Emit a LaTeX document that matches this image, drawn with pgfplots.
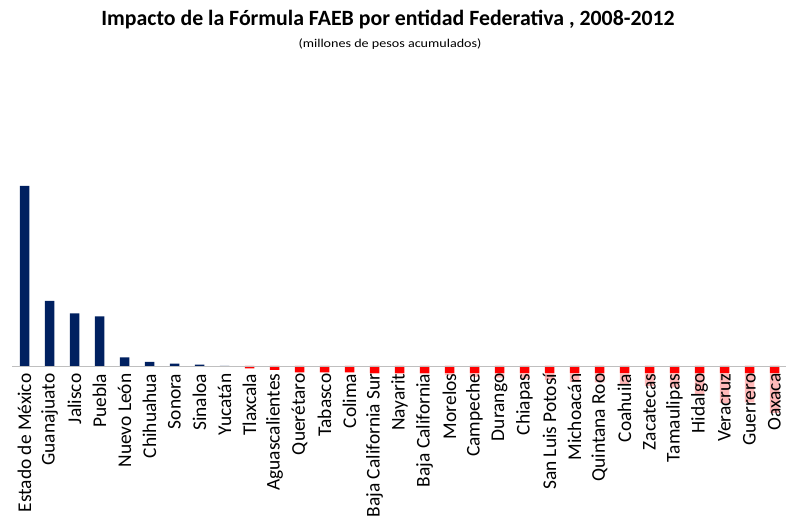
\documentclass[border=0pt]{standalone}
\usepackage{fontspec}
\setmainfont{Carlito}
\newfontfamily\subfont[FakeStretch=1.18]{Carlito}
\usepackage{pgfplots}
\pgfplotsset{compat=1.18}
\definecolor{navy}{HTML}{002060}
\definecolor{basegray}{HTML}{BFBFBF}
\begin{document}
\begin{tikzpicture}
\begin{axis}[
  at={(12bp,97bp)}, anchor=south west,
  scale only axis, width=775bp, height=260bp,
  xmin=-0.5, xmax=30.5, ymin=-60, ymax=200,
  axis x line*=middle, axis y line=none,
  x axis line style={basegray, line width=1pt},
  axis on top,
  ytick=\empty,
  xtick={0,...,30}, major tick length=0pt,
  xticklabels={Estado de México,Guanajuato,Jalisco,Puebla,Nuevo León,Chihuahua,Sonora,Sinaloa,Yucatán,Tlaxcala,Aguascalientes,Querétaro,Tabasco,Colima,Baja California Sur,Nayarit,Baja California,Morelos,Campeche,Durango,Chiapas,San Luis Potosí,Michoacán,Quintana Roo,Coahuila,Zacatecas,Tamaulipas,Hidalgo,Veracruz,Guerrero,Oaxaca},
  xticklabel style={rotate=90, anchor=east, font=\fontsize{19.5}{21}\selectfont, fill=white, fill opacity=0.72, text opacity=1, inner sep=0.5pt, xshift=-7bp},
  clip=false,
]
\addplot[ybar, bar width=9.5bp, fill=navy, draw=none] coordinates {
(0,180) (1,65) (2,52.5) (3,49.7) (4,8.7) (5,4.2) (6,2.3) (7,1.3) (8,0.2)};
\addplot[ybar, bar width=9.5bp, fill=red, draw=none] coordinates {
(9,-2.4) (10,-3.8) (11,-6.3) (12,-6.3) (13,-6.5) (14,-8) (15,-8.2) (16,-8.2) (17,-9.2) (18,-11) (19,-11.7) (20,-12.7) (21,-14) (22,-16) (23,-16.3) (24,-19) (25,-20) (26,-21.5) (27,-29) (28,-37) (29,-36.5) (30,-47)};
\end{axis}
\node[font=\fontsize{21.9}{24}\selectfont\bfseries] at (388bp,503bp) {Impacto de la Fórmula FAEB por entidad Federativa , 2008-2012};
\node[font=\subfont\fontsize{12}{14}\selectfont] at (390bp,479bp) {(millones de pesos acumulados)};
\pgfresetboundingbox
\path[use as bounding box] (0,0) rectangle (786bp,523bp);
\end{tikzpicture}
\end{document}
